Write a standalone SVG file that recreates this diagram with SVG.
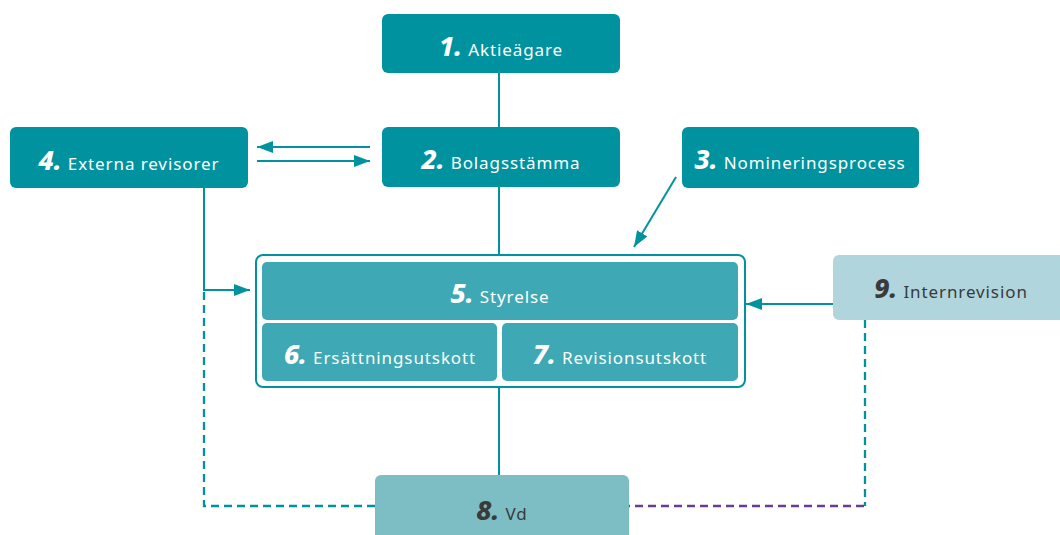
<svg xmlns="http://www.w3.org/2000/svg" width="1060" height="535" viewBox="0 0 1060 535">
<defs>
<style>
.t1{fill:#00939f}
.t2{fill:#3ea8b5}
.t3{fill:#7dbdc4}
.t4{fill:#b0d5dc}
.ln{stroke:#00939f;stroke-width:2;fill:none}
.dash{stroke-dasharray:8 5;stroke-width:2.3}
.pur{stroke:#6b3a96;stroke-width:2.3;fill:none;stroke-dasharray:8 5}
text{font-family:"Noto Sans","Open Sans",sans-serif;text-anchor:middle;fill:#fff}
.n{font-size:27px;font-weight:800;font-style:italic}
.l{font-size:17px;font-weight:400;letter-spacing:0.9px}
.dk{fill:#3a3a3a}
</style>
<marker id="ah" viewBox="0 0 16 12" refX="16" refY="6" markerWidth="16" markerHeight="12" markerUnits="userSpaceOnUse" orient="auto">
<path d="M0,0 L16,6 L0,12 Z" fill="#00939f"/>
</marker>
</defs>
<g id="connectors">
<line class="ln" x1="499" y1="73" x2="499" y2="127"/>
<line class="ln" x1="499" y1="187" x2="499" y2="254"/>
<line class="ln" x1="499" y1="388" x2="499" y2="475"/>
<line class="ln" x1="370" y1="147" x2="257" y2="147" marker-end="url(#ah)"/>
<line class="ln" x1="257" y1="161" x2="370" y2="161" marker-end="url(#ah)"/>
<polyline class="ln" points="204,187 204,290 250,290" marker-end="url(#ah)"/>
<polyline class="ln dash" points="204,292 204,506 375,506"/>
<line class="ln" x1="676" y1="177" x2="634" y2="247" marker-end="url(#ah)"/>
<line class="ln" x1="833" y1="304" x2="746" y2="304" marker-end="url(#ah)"/>
<polyline class="ln dash" points="865,320 865,506"/>
<line class="pur" x1="864" y1="506" x2="629" y2="506"/>
</g>
<g id="n1">
<rect class="t1" x="382" y="14" width="238" height="59" rx="6"/>
<text x="501" y="56"><tspan class="n">1.</tspan><tspan class="l" dx="6">Aktieägare</tspan></text>
</g>
<g id="n2">
<rect class="t1" x="382" y="127" width="238" height="60" rx="6"/>
<text x="501" y="169"><tspan class="n">2.</tspan><tspan class="l" dx="6">Bolagsstämma</tspan></text>
</g>
<g id="n3">
<rect class="t1" x="682" y="127" width="237" height="61" rx="6"/>
<text x="800" y="169"><tspan class="n">3.</tspan><tspan class="l" dx="6">Nomineringsprocess</tspan></text>
</g>
<g id="n4">
<rect class="t1" x="10" y="127" width="238" height="61" rx="6"/>
<text x="129" y="170"><tspan class="n">4.</tspan><tspan class="l" dx="6">Externa revisorer</tspan></text>
</g>
<g id="frame">
<rect x="256" y="255" width="489" height="132" rx="7" fill="#fff" stroke="#00939f" stroke-width="2"/>
</g>
<g id="n5">
<rect class="t2" x="262" y="262" width="476" height="58" rx="5"/>
<text x="500" y="303"><tspan class="n">5.</tspan><tspan class="l" dx="6">Styrelse</tspan></text>
</g>
<g id="n6">
<rect class="t2" x="262" y="323" width="235" height="58" rx="5"/>
<text x="380" y="364"><tspan class="n">6.</tspan><tspan class="l" dx="6">Ersättningsutskott</tspan></text>
</g>
<g id="n7">
<rect class="t2" x="502" y="323" width="236" height="58" rx="5"/>
<text x="620" y="364"><tspan class="n">7.</tspan><tspan class="l" dx="6">Revisionsutskott</tspan></text>
</g>
<g id="n8">
<rect class="t3" x="375" y="475" width="254" height="70" rx="6"/>
<text x="502" y="520"><tspan class="n dk">8.</tspan><tspan class="l dk" dx="6">Vd</tspan></text>
</g>
<g id="n9">
<rect class="t4" x="833" y="255" width="240" height="65" rx="6"/>
<text x="951" y="298"><tspan class="n dk">9.</tspan><tspan class="l dk" dx="6">Internrevision</tspan></text>
</g>
</svg>
